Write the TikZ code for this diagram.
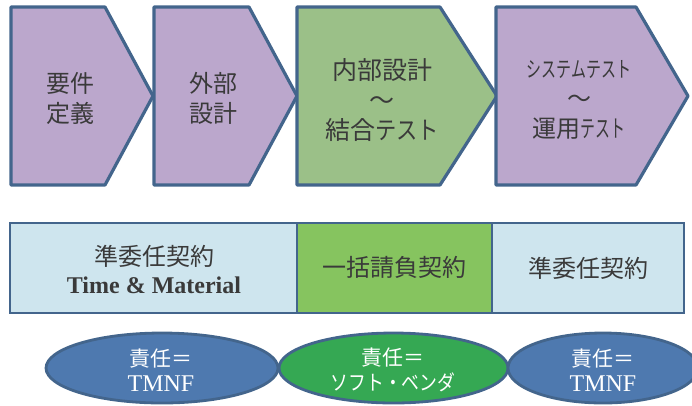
\documentclass[tikz,border=0pt]{standalone}
\usepackage{fontspec}
\usepackage{graphicx}
\setmainfont{Liberation Serif}
\newfontfamily\jp{Noto Sans CJK JP}
\usetikzlibrary{shapes.geometric}
\definecolor{edge}{HTML}{43658C}
\definecolor{purp}{HTML}{BBA7CC}
\definecolor{chgreen}{HTML}{9BC088}
\definecolor{lblue}{HTML}{CEE5EE}
\definecolor{bgreen}{HTML}{86C45F}
\definecolor{eblue}{HTML}{4E79AF}
\definecolor{egreen}{HTML}{35A853}
\definecolor{txt}{HTML}{3A3A3A}
\tikzset{
  chev/.style={draw=edge, line width=3.2pt, line join=round},
  chevtext/.style={text=txt, align=center, font=\jp\fontsize{24}{30}\selectfont},
  cbox/.style={draw=edge, line width=2.8pt, rectangle, minimum height=90pt, inner sep=0pt},
  boxtext/.style={text=txt, align=center, font=\jp\fontsize{24}{28}\selectfont},
  oval/.style={draw=edge, line width=2.8pt, ellipse, minimum height=70pt, inner sep=0pt},
  ovaltext/.style={text=white, align=center, font=\fontsize{21}{25}\selectfont}
}
\begin{document}
\begin{tikzpicture}[x=1pt,y=-1pt]
\useasboundingbox (0,0) rectangle (692,405);
% chevrons
\draw[chev, fill=purp] (11,7) -- (105,7) -- (153,96) -- (105,185) -- (11,185) -- cycle;
\draw[chev, fill=purp] (154,7) -- (249,7) -- (297,96) -- (249,185) -- (154,185) -- cycle;
\draw[chev, fill=chgreen] (297,7) -- (440,7) -- (497,96) -- (440,185) -- (297,185) -- cycle;
\draw[chev, fill=purp] (496,7) -- (636,7) -- (688,96) -- (636,185) -- (496,185) -- cycle;
\node[chevtext] (t1) at (70,98) {要件\\定義};
\node[chevtext] (t2) at (213,98) {外部\\設計};
\node[chevtext, font=\jp\fontsize{25}{30}\selectfont] (t3) at (382,100) {内部設計\\〜\\結合\scalebox{0.85}[1]{テスト}};
\node[chevtext] (t4) at (579,100) {\scalebox{0.68}[1]{\fontsize{22}{30}\selectfont システムテスト}\\〜\\運用\scalebox{0.62}[1]{テスト}};
% contract boxes
\node[cbox, fill=lblue, minimum width=287pt] (b1) at (153.5,268) {};
\node[cbox, fill=bgreen, minimum width=195pt] (b2) at (394.5,268) {};
\node[cbox, fill=lblue, minimum width=192pt] (b3) at (588,268) {};
\node[boxtext] (b1t) at (154,269) {準委任契約\\{\rmfamily\bfseries\fontsize{24}{28}\selectfont Time \& Material}};
\node[boxtext] (b2t) at (394,267) {一括請負契約};
\node[boxtext] (b3t) at (588,268) {準委任契約};
% responsibility ovals
\node[oval, fill=eblue, minimum width=232pt] (e1) at (162,368) {};
\node[oval, fill=egreen, minimum width=229pt] (e2) at (393.5,368) {};
\node[oval, fill=eblue, minimum width=190pt] (e3) at (603,368) {};
\node[ovaltext] (e1t) at (161,370) {{\jp 責任＝}\\{\fontsize{24}{25}\selectfont TMNF}};
\node[ovaltext] (e2t) at (393,370) {{\jp 責任＝}\\{\jp\scalebox{0.85}[1]{ソフト・ベンダ}}};
\node[ovaltext] (e3t) at (603,370) {{\jp 責任＝}\\{\fontsize{24}{25}\selectfont TMNF}};
\end{tikzpicture}
\end{document}
